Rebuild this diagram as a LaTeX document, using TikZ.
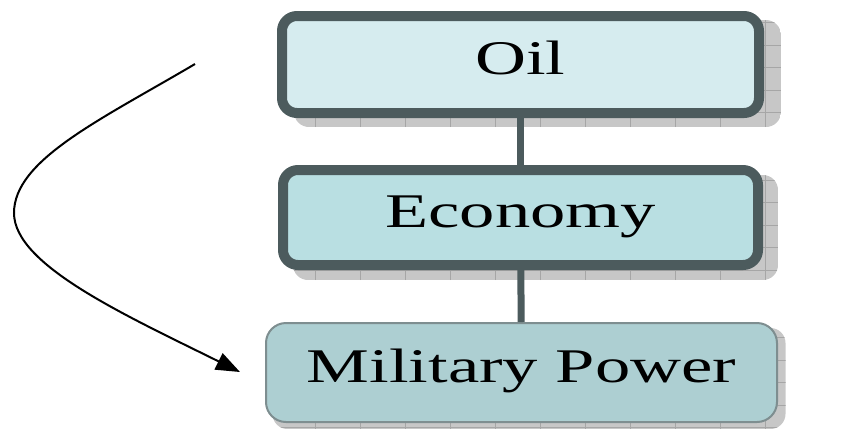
\documentclass[tikz,border=0pt]{standalone}
\usepackage{fontspec}
\setmainfont{Liberation Serif}
\usepackage{graphicx}
\usetikzlibrary{arrows.meta,backgrounds}

\definecolor{boxline}{HTML}{4C5B5D}
\definecolor{lightline}{HTML}{7E8E90}
\definecolor{oilfill}{HTML}{D6ECEF}
\definecolor{ecofill}{HTML}{B9DFE2}
\definecolor{milfill}{HTML}{ADCFD2}

\begin{document}
\begin{tikzpicture}[scale=1]

	\tikzstyle box text=[font=\fontsize{27.5}{30}\selectfont, text height=0.6cm, text depth=0.22cm];
	\tikzstyle heavy box=[box text, draw=boxline, line width=0.2cm, rounded corners=0.3cm];
	\tikzstyle light box=[box text, draw=lightline, line width=0.04cm, rounded corners=0.4cm];
	\tikzstyle link lines=[draw=boxline, line width=0.14cm];
	\tikzstyle bend lines=[line width=0.04cm, -{Triangle[length=0.48cm,width=0.36cm]}];

	\useasboundingbox (0,0) rectangle (17.02,-8.56);

	\node[heavy box, fill=oilfill, minimum width=9.54cm, minimum height=1.94cm] (oil) at (10.41,-1.29) {\scalebox{1.46}[1]{Oil}};
	\node[heavy box, fill=ecofill, minimum width=9.5cm, minimum height=1.9cm] (eco) at (10.41,-4.35) {\scalebox{1.46}[1]{Economy}};
	\node[light box, fill=milfill, minimum width=10.22cm, minimum height=1.98cm] (mil) at (10.43,-7.45) {\scalebox{1.46}[1]{Military Power}};

	\draw[link lines] (oil) -- (eco);
	\draw[link lines] (eco) -- (mil);

	% shadows with a faint grid
	\begin{scope}[on background layer]
		\foreach \n/\dx/\dy in {oil/.34/.18, eco/.3/.2, mil/.15/.12} {
			\begin{scope}
				\clip[rounded corners=0.3cm] ([shift={(\dx,-\dy)}]\n.south west) rectangle ([shift={(\dx,-\dy)}]\n.north east);
				\fill[black!22] ([shift={(\dx,-\dy)}]\n.south west) rectangle ([shift={(\dx,-\dy)}]\n.north east);
				\draw[black!35, line width=0.3pt] ([shift={(\dx,-\dy)}]\n.south west) grid[xstep=0.9, ystep=0.45] ([shift={(\dx,-\dy)}]\n.north east);
			\end{scope}
		}
	\end{scope}

	\coordinate (bend start) at (3.9,-1.28);
	\coordinate (bend end) at (4.8,-7.44);
	\draw[bend lines] (bend start) .. controls (2.0,-2.4) and (0.28,-3.2) .. (0.28,-4.26)
		.. controls (0.28,-5.3) and (2.5,-6.3) .. (bend end);

\end{tikzpicture}
\end{document}
